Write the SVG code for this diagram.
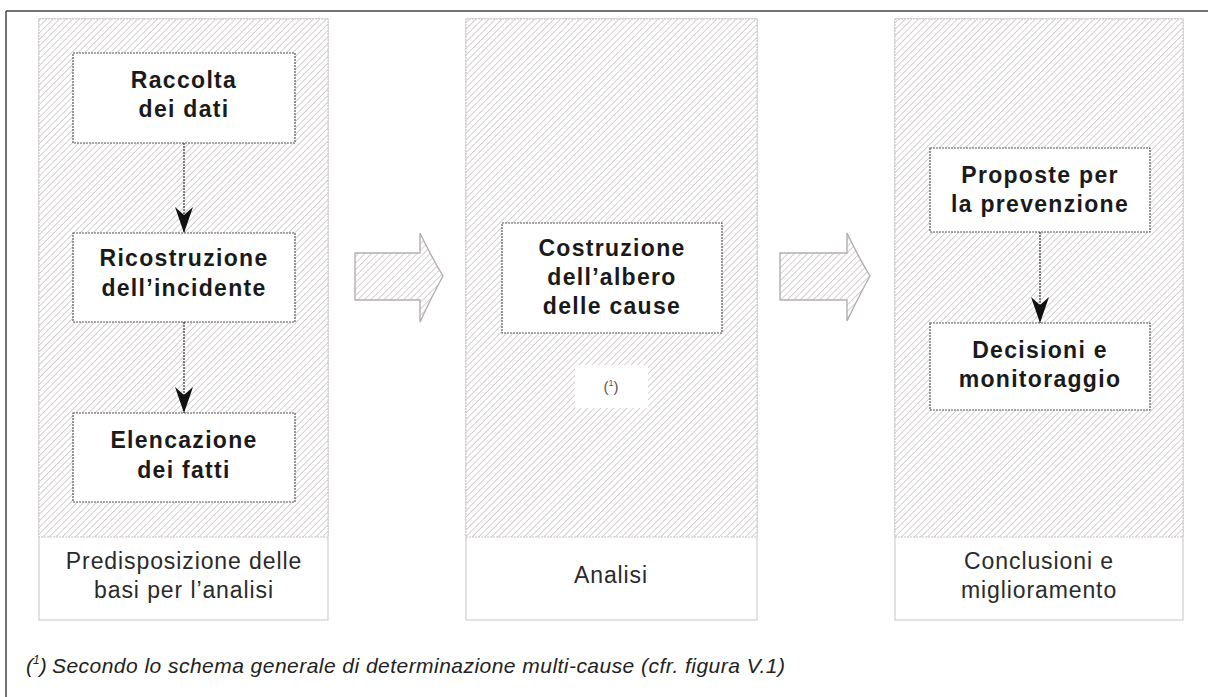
<svg xmlns="http://www.w3.org/2000/svg" width="1208" height="697" viewBox="0 0 1208 697">
  <defs>
    <pattern id="hatch" patternUnits="userSpaceOnUse" width="4.6" height="4.6" patternTransform="rotate(45)">
      <rect width="4.6" height="4.6" fill="#ffffff"/>
      <line x1="0" y1="0" x2="0" y2="4.6" stroke="#cbc4c4" stroke-width="1.6"/>
    </pattern>
    <!-- barbed arrowhead, drawn along +x so orient="auto" points it down the line -->
    <marker id="head" viewBox="0 0 26 18" refX="26" refY="9" markerWidth="26" markerHeight="18" markerUnits="userSpaceOnUse" orient="auto">
      <path d="M0,0 L8,9 L0,18 L26,9 Z" fill="#111"/>
    </marker>
  </defs>
  <style>
    .panel { fill: url(#hatch); stroke: #c9c3c3; stroke-width: 1; stroke-dasharray: 2 1; }
    .caption { fill: #ffffff; stroke: #d3cdcd; stroke-width: 1.2; }
    .box { fill: #ffffff; stroke: #555; stroke-width: 1.2; stroke-dasharray: 2 1; }
    .t { font-family: "Liberation Sans", Arial, sans-serif; font-weight: bold; font-size: 23px; letter-spacing: 1.3px; fill: #1a1a1a; text-anchor: middle; }
    .lab { font-family: "Liberation Sans", Arial, sans-serif; font-size: 23px; letter-spacing: 0.9px; fill: #2a2a2a; text-anchor: middle; }
    .edge { stroke: #333; stroke-width: 1.2; stroke-dasharray: 2 1; fill: none; marker-end: url(#head); }
    .big { fill: url(#hatch); stroke: #b5aeae; stroke-width: 1.4; }
    .foot { font-family: "Liberation Sans", Arial, sans-serif; font-style: italic; font-size: 21px; fill: #222; }
  </style>

  <!-- frame: top and left rules -->
  <line x1="6" y1="11" x2="1208" y2="11" stroke="#444" stroke-width="1.5"/>
  <line x1="6" y1="11" x2="6" y2="697" stroke="#444" stroke-width="1.5"/>

  <!-- stage panels -->
  <g id="stage-preparation">
    <rect class="caption" x="39" y="19" width="289" height="601"/>
    <rect class="panel" x="39" y="19" width="289" height="518"/>
    <text class="lab" x="184" y="569">Predisposizione delle</text>
    <text class="lab" x="184" y="598">basi per l’analisi</text>
  </g>
  <g id="stage-analysis">
    <rect class="caption" x="466" y="19" width="291" height="601"/>
    <rect class="panel" x="466" y="19" width="291" height="518"/>
    <text class="lab" x="611" y="583">Analisi</text>
  </g>
  <g id="stage-conclusions">
    <rect class="caption" x="895" y="19" width="288" height="601"/>
    <rect class="panel" x="895" y="19" width="288" height="518"/>
    <text class="lab" x="1039" y="569">Conclusioni e</text>
    <text class="lab" x="1039" y="598">miglioramento</text>
  </g>

  <!-- steps -->
  <g id="raccolta">
    <rect class="box" x="73" y="53" width="222" height="90"/>
    <text class="t" x="184" y="88">Raccolta</text>
    <text class="t" x="184" y="117">dei dati</text>
  </g>
  <g id="ricostruzione">
    <rect class="box" x="73" y="233" width="222" height="89"/>
    <text class="t" x="184" y="266">Ricostruzione</text>
    <text class="t" x="184" y="296">dell’incidente</text>
  </g>
  <g id="elencazione">
    <rect class="box" x="73" y="413" width="222" height="89"/>
    <text class="t" x="184" y="448">Elencazione</text>
    <text class="t" x="184" y="478">dei fatti</text>
  </g>
  <g id="costruzione">
    <rect class="box" x="502" y="223" width="220" height="110"/>
    <text class="t" x="612" y="256">Costruzione</text>
    <text class="t" x="612" y="285">dell’albero</text>
    <text class="t" x="612" y="314">delle cause</text>
  </g>
  <g id="nota-rif">
    <rect x="575" y="365" width="73" height="43" fill="#ffffff"/>
    <text x="611" y="392" font-family="Liberation Sans, Arial, sans-serif" font-size="15" fill="#555" text-anchor="middle">(<tspan font-size="9" dy="-6">1</tspan><tspan dy="6">)</tspan></text>
  </g>
  <g id="proposte">
    <rect class="box" x="930" y="148" width="220" height="84"/>
    <text class="t" x="1040" y="183">Proposte per</text>
    <text class="t" x="1040" y="212">la prevenzione</text>
  </g>
  <g id="decisioni">
    <rect class="box" x="930" y="323" width="220" height="87"/>
    <text class="t" x="1040" y="358">Decisioni e</text>
    <text class="t" x="1040" y="387">monitoraggio</text>
  </g>

  <!-- connectors -->
  <g id="connectors">
    <line class="edge" x1="184" y1="143" x2="184" y2="233"/>
    <line class="edge" x1="184" y1="322" x2="184" y2="413"/>
    <line class="edge" x1="1040" y1="232" x2="1040" y2="323"/>
    <path class="big" d="M355,253 L420,253 L420,233 Q432,258 443,276 Q432,296 420,322 L420,300 L355,300 Z"/>
    <path class="big" d="M780,253 L847,253 L847,233 Q859,258 870,276 Q859,296 847,321 L847,300 L780,300 Z"/>
  </g>

  <!-- footnote -->
  <g id="footnote">
    <text class="foot" x="26" y="673">(<tspan font-size="12" dy="-9">1</tspan><tspan dy="9">)</tspan></text>
    <text class="foot" x="52" y="673" textLength="733" lengthAdjust="spacing">Secondo lo schema generale di determinazione multi-cause (cfr. figura V.1)</text>
  </g>
</svg>
